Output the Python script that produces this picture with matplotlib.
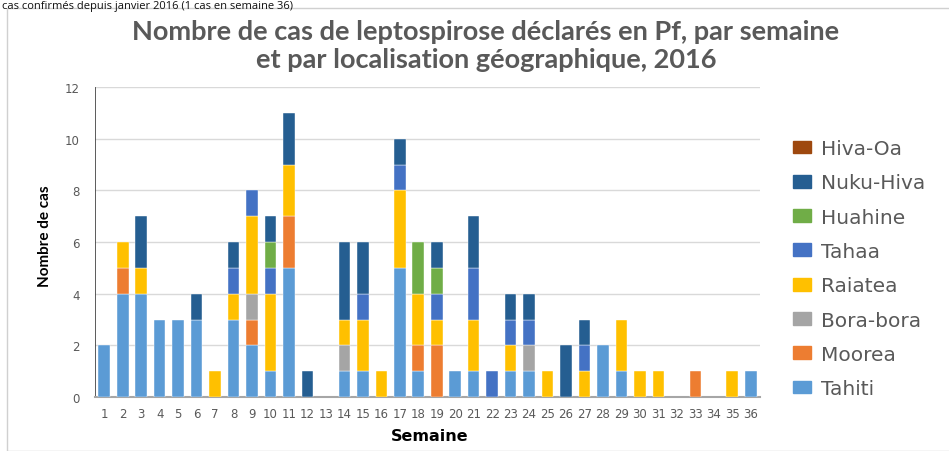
import matplotlib
matplotlib.use("Agg")
import matplotlib.pyplot as plt
from matplotlib.patches import Rectangle, Patch
import numpy as np

weeks = list(range(1, 37))
week_labels = [str(w) for w in weeks]

tahiti    = [2,4,4,3,3,3,0,3,2,1,5,0,0,1,1,0,5,1,0,1,1,0,1,1,0,0,0,2,1,0,0,0,0,0,0,1]
moorea    = [0,1,0,0,0,0,0,0,1,0,2,0,0,0,0,0,0,1,2,0,0,0,0,0,0,0,0,0,0,0,0,0,1,0,0,0]
bora      = [0,0,0,0,0,0,0,0,1,0,0,0,0,1,0,0,0,0,0,0,0,0,0,1,0,0,0,0,0,0,0,0,0,0,0,0]
raiatea   = [0,1,1,0,0,0,1,1,3,3,2,0,0,1,2,1,3,2,1,0,2,0,1,0,1,0,1,0,2,1,1,0,0,0,1,0]
tahaa     = [0,0,0,0,0,0,0,1,1,1,0,0,0,0,1,0,1,0,1,0,2,1,1,1,0,0,1,0,0,0,0,0,0,0,0,0]
huahine   = [0,0,0,0,0,0,0,0,0,1,0,0,0,0,0,0,0,2,1,0,0,0,0,0,0,0,0,0,0,0,0,0,0,0,0,0]
nukuhiva  = [0,0,2,0,0,1,0,1,0,1,2,1,0,3,2,0,1,0,1,0,2,0,1,1,0,2,1,0,0,0,0,0,0,0,0,0]
hivaoa    = [0]*36

series_names = ["Tahiti", "Moorea", "Bora-bora", "Raiatea", "Tahaa", "Huahine", "Nuku-Hiva", "Hiva-Oa"]
series_vals = [tahiti, moorea, bora, raiatea, tahaa, huahine, nukuhiva, hivaoa]
colors = ["#5B9BD5", "#ED7D31", "#A5A5A5", "#FFC000", "#4472C4", "#70AD47", "#255E91", "#9E480E"]

fig = plt.figure(figsize=(9.49, 4.52), dpi=100)
fig.patch.set_facecolor("white")

# outer chart frame
fig.patches.append(Rectangle((7/949, 0), 1.0, 1 - 9/452, transform=fig.transFigure,
                             fill=False, edgecolor="#D0D0D0", lw=1.0, zorder=0))

# text line at the very top (cut in the source screenshot)
fig.text(2/949, 1 - 1/452, "cas confirmés depuis janvier 2016 (1 cas en semaine 36)",
         ha="left", va="top", fontsize=8, color="#111111", family="Open Sans")

ax = fig.add_axes([95/949, 1 - 398/452, (760 - 95)/949, (398 - 88)/452])

x = np.array(weeks)
bottom = np.zeros(36)
handles = []
for name, vals, c in zip(series_names, series_vals, colors):
    v = np.array(vals, dtype=float)
    m = v > 0
    if m.any():
        ax.bar(x[m], v[m], width=0.63, bottom=bottom[m], color=c, edgecolor="white",
               linewidth=0.3, zorder=3)
    bottom += v
    handles.append(Patch(facecolor=c, edgecolor=c, label=name))

ax.set_xlim(0.5, 36.5)
ax.set_ylim(0, 12)
ax.set_yticks(range(0, 13, 2))
ax.set_xticks(x)
ax.set_xticklabels(week_labels)
ax.yaxis.grid(True, color="#D9D9D9", lw=1.0, zorder=0)
ax.set_axisbelow(True)
for s in ["top", "right"]:
    ax.spines[s].set_visible(False)
ax.spines["left"].set_color("#404040")
ax.spines["left"].set_linewidth(0.6)
ax.spines["bottom"].set_color("#A6A6A6")
ax.spines["bottom"].set_linewidth(1.5)
ax.tick_params(axis="both", length=0, colors="#595959", labelsize=8.5)
ax.tick_params(axis="x", pad=7)
ax.tick_params(axis="y", pad=11)

fig.text(45 / 949, 1 - 236 / 452, "Nombre de cas", rotation=90, ha="center", va="center",
         fontsize=11, fontweight="bold", family="Lato", color="black")
fig.text(430 / 949, 1 - 437 / 452, "Semaine", ha="center", va="center",
         fontsize=11.5, fontweight="bold", color="black")

fig.text(486 / 949, 1 - 32 / 452, "Nombre de cas de leptospirose déclarés en Pf, par semaine",
         ha="center", va="center", fontsize=19.5, fontweight="bold", color="#595959", family="Lato")
fig.text(486 / 949, 1 - 60 / 452, "et par localisation géographique, 2016",
         ha="center", va="center", fontsize=19.5, fontweight="bold", color="#595959", family="Lato")

leg = fig.legend(handles=handles[::-1], loc="upper left", bbox_to_anchor=(785 / 949, 1 - 132 / 452),
                 frameon=False, fontsize=14.5, handlelength=0.9, handleheight=0.6,
                 handletextpad=0.5, labelspacing=0.76, borderaxespad=0)
for t in leg.get_texts():
    t.set_color("#595959")

fig.savefig("out.png", dpi=100, facecolor="white")
